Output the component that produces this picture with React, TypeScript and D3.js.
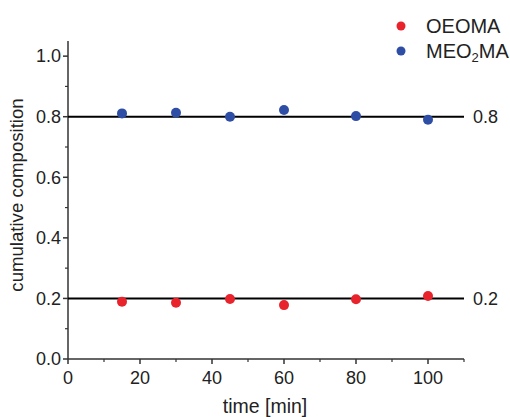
import React from "react";
import * as d3 from "d3";

const times = [15, 30, 45, 60, 80, 100];
const oeoma = [0.189, 0.186, 0.198, 0.178, 0.197, 0.208];
const meo2ma = [0.811, 0.813, 0.8, 0.822, 0.802, 0.79];
const refLines = [0.2, 0.8];
const xTicks = [0, 20, 40, 60, 80, 100];
const yTicks = [0, 0.2, 0.4, 0.6, 0.8, 1.0];
const xMinor = [10, 30, 50, 70, 90, 110];
const yMinor = [0.1, 0.3, 0.5, 0.7, 0.9];

const RED = "#e8232b";
const BLUE = "#2e4ea6";
const FONT = "Liberation Sans, Arial, sans-serif";

export default function App() {
  const x = d3.scaleLinear().domain([0, 110]).range([68, 464]);
  const y = d3.scaleLinear().domain([0, 1.05]).range([359, 41]);
  const axisColor = "#333";
  return (
    <svg width={510} height={417} style={{ position: "absolute", left: 0, top: 0 }} fontFamily={FONT}>
      {/* axes */}
      <line x1={x(0)} x2={x(0)} y1={y(0)} y2={y(1.05)} stroke={axisColor} strokeWidth={1.5} />
      <line x1={x(0)} x2={x(110)} y1={y(0)} y2={y(0)} stroke={axisColor} strokeWidth={1.5} />
      {yTicks.map((t) => (
        <g key={"yt" + t}>
          <line x1={x(0) - 5} x2={x(0)} y1={y(t)} y2={y(t)} stroke={axisColor} strokeWidth={1.5} />
          <text x={x(0) - 7} y={y(t)} dy="0.35em" textAnchor="end" fontSize={18} fill="#222">
            {t.toFixed(1)}
          </text>
        </g>
      ))}
      {yMinor.map((t) => (
        <line key={"ym" + t} x1={x(0) - 3} x2={x(0)} y1={y(t)} y2={y(t)} stroke={axisColor} strokeWidth={1.2} />
      ))}
      {xTicks.map((t) => (
        <g key={"xt" + t}>
          <line x1={x(t)} x2={x(t)} y1={y(0)} y2={y(0)} stroke={axisColor} strokeWidth={1.5} />
          <line x1={x(t)} x2={x(t)} y1={y(0)} y2={y(0) + 5} stroke={axisColor} strokeWidth={1.5} />
          <text x={x(t)} y={y(0) + 25} textAnchor="middle" fontSize={18} fill="#222">
            {t}
          </text>
        </g>
      ))}
      {xMinor.map((t) => (
        <line key={"xm" + t} x1={x(t)} x2={x(t)} y1={y(0)} y2={y(0) + 3} stroke={axisColor} strokeWidth={1.2} />
      ))}
      {/* reference lines */}
      {refLines.map((v) => (
        <g key={"rl" + v}>
          <line x1={x(0)} x2={x(110)} y1={y(v)} y2={y(v)} stroke="#000" strokeWidth={2} />
          <text x={473} y={y(v)} dy="0.35em" fontSize={18} fill="#222">
            {v.toFixed(1)}
          </text>
        </g>
      ))}
      {/* points */}
      {times.map((t, i) => (
        <circle key={"r" + i} cx={x(t)} cy={y(oeoma[i])} r={5} fill={RED} />
      ))}
      {times.map((t, i) => (
        <circle key={"b" + i} cx={x(t)} cy={y(meo2ma[i])} r={5} fill={BLUE} />
      ))}
      {/* axis labels */}
      <text x={265} y={413} textAnchor="middle" fontSize={19.5} fill="#222">
        time [min]
      </text>
      <text transform={`translate(23,195) rotate(-90)`} textAnchor="middle" fontSize={18.6} fill="#222">
        cumulative composition
      </text>
      {/* legend */}
      <circle cx={401} cy={26} r={4.5} fill={RED} />
      <text x={426} y={33} fontSize={20} fill="#222">OEOMA</text>
      <circle cx={401} cy={51} r={4.5} fill={BLUE} />
      <text x={426} y={58} fontSize={20} fill="#222">
        MEO<tspan fontSize={13} dy={4}>2</tspan><tspan dy={-4}>MA</tspan>
      </text>
    </svg>
  );
}
